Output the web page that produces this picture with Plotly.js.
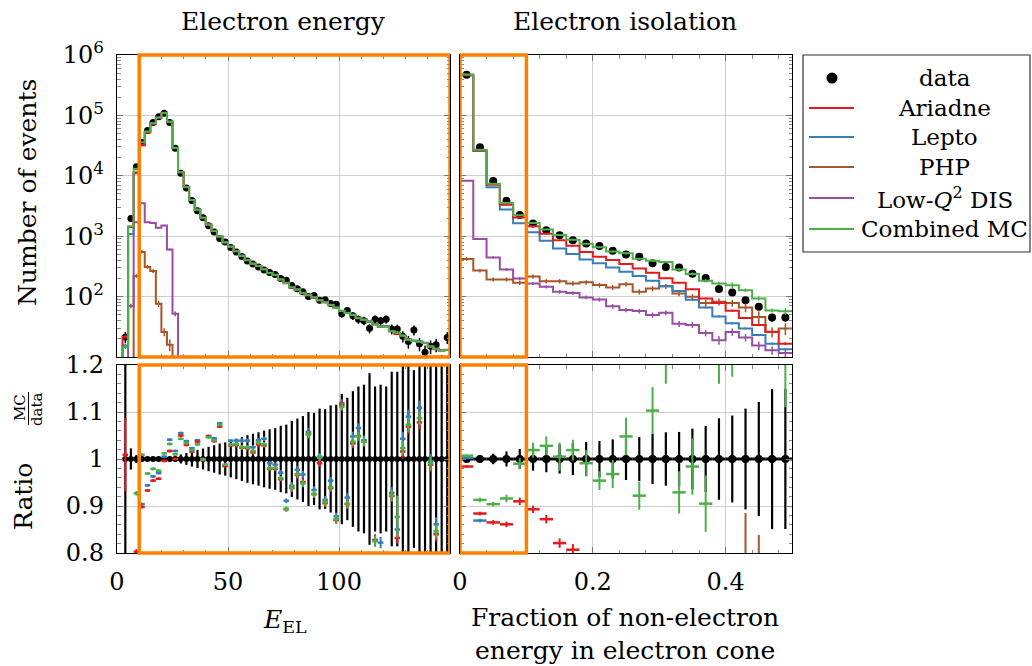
<!DOCTYPE html>
<html><head><meta charset="utf-8">
<script src="https://cdn.plot.ly/plotly-3.0.1.min.js"></script>
<style>html,body{margin:0;padding:0;background:#fff}#chart{width:1032px;height:666px}</style>
</head><body><div id="chart"></div>
<script>
// ---------- Binning ----------
const energyBinStart = 0, energyBinWidth = 2.5;      // E_EL: 60 bins 0..150
const isoBinStart = 0, isoBinWidth = 0.02;           // isolation: 25 bins 0..0.5

// ---------- Electron energy panel ----------
const dataE = [null, 21.5, 1970, 14100, 35600, 56000, 76000, 95000, 109000, 76000,
  28600, 11000, 6300, 3900, 2650, 2030, 1490, 1170, 920, 800,
  650, 545, 460, 390, 345, 310, 275, 250, 233, 200,
  187, 152, 135, 120, 100, 104, 87, 89, 77, 75,
  52, 59, 48, 42, 40, 30, 42, 40, 42, 29,
  29, 22, 18, 28, 16.5, 12, 15, 16, 8, 21];
const ratioCombinedE = [null, 0.68, 0.74, 0.927, 1.009, 0.969, 0.979, 0.975, 1.012, 1.032,
  1.010, 1.043, 1.034, 1.019, 1.031, 0.999, 1.046, 1.040, 1.073, 0.988,
  1.031, 1.032, 1.025, 1.025, 1.017, 1.035, 1.031, 0.981, 0.981, 0.959,
  0.894, 0.939, 0.968, 0.948, 1.052, 0.926, 1.003, 0.908, 0.940, 0.872,
  1.111, 0.905, 1.037, 1.048, 1.037, 1.28, 0.825, 0.79, 0.76, 0.922,
  0.877, 1.023, 1.073, 0.66, 1.087, 1.42, 0.991, 0.846, 1.6, 0.62];
const ratioAriadneE = [null, 1.009, 0.72, 0.803, 0.898, 0.933, 0.954, 0.958, 0.996, 1.017,
  1.000, 1.050, 1.030, 1.016, 1.037, 0.998, 1.048, 1.038, 1.069, 0.985,
  1.029, 1.030, 1.024, 1.023, 1.014, 1.031, 1.029, 0.979, 0.979, 0.957,
  0.893, 0.938, 0.966, 0.951, 1.053, 0.925, 0.991, 0.906, 0.938, 0.870,
  1.115, 0.904, 1.033, 1.049, 1.037, 1.28, 0.827, 0.79, 0.76, 0.921,
  0.832, 1.016, 1.069, 0.66, 1.078, 1.42, 0.988, 0.840, 1.6, 0.62];
const ratioLeptoE = [null, 0.72, 0.55, 0.78, 0.904, 0.944, 0.963, 0.970, 1.005, 1.041,
  1.017, 1.055, 1.038, 1.023, 1.040, 1.000, 1.049, 1.044, 1.076, 0.986,
  1.039, 1.039, 1.039, 1.039, 1.025, 1.040, 1.043, 0.991, 0.988, 0.971,
  0.911, 0.943, 0.977, 0.967, 1.058, 0.934, 1.005, 0.913, 0.954, 0.878,
  1.119, 0.918, 1.048, 1.066, 1.040, 1.30, 0.828, 0.822, 0.77, 0.928,
  0.850, 1.043, 1.090, 0.67, 1.109, 1.44, 0.996, 0.861, 1.62, 0.63];
const errCombinedE = [null, 0.05, 0.01, 0.005, 0.003, 0.003, 0.003, 0.003, 0.003, 0.003,
  0.003, 0.003, 0.003, 0.003, 0.003, 0.003, 0.003, 0.003, 0.003, 0.003,
  0.003, 0.005, 0.005, 0.005, 0.005, 0.005, 0.005, 0.005, 0.005, 0.005,
  0.005, 0.008, 0.008, 0.008, 0.008, 0.008, 0.008, 0.008, 0.008, 0.008,
  0.008, 0.01, 0.01, 0.01, 0.01, 0.01, 0.012, 0.012, 0.012, 0.012,
  0.045, 0.015, 0.015, 0.015, 0.015, 0.015, 0.015, 0.015, 0.015, 0.015];
const errAriadneE = [null, 0.078, 0.01, 0.005, 0.003, 0.003, 0.003, 0.003, 0.003, 0.003,
  0.003, 0.003, 0.003, 0.003, 0.003, 0.003, 0.003, 0.003, 0.003, 0.003,
  0.003, 0.005, 0.005, 0.005, 0.005, 0.005, 0.005, 0.005, 0.005, 0.005,
  0.005, 0.008, 0.008, 0.008, 0.008, 0.008, 0.008, 0.008, 0.008, 0.008,
  0.008, 0.01, 0.01, 0.01, 0.01, 0.01, 0.012, 0.012, 0.012, 0.012,
  0.012, 0.015, 0.015, 0.015, 0.015, 0.015, 0.015, 0.015, 0.015, 0.015];
const errLeptoE = [null, 0.05, 0.01, 0.005, 0.003, 0.003, 0.003, 0.003, 0.003, 0.003,
  0.003, 0.003, 0.003, 0.003, 0.003, 0.003, 0.003, 0.003, 0.003, 0.003,
  0.003, 0.005, 0.005, 0.005, 0.005, 0.005, 0.005, 0.005, 0.005, 0.005,
  0.005, 0.008, 0.008, 0.008, 0.008, 0.008, 0.008, 0.008, 0.008, 0.008,
  0.008, 0.01, 0.01, 0.01, 0.01, 0.01, 0.012, 0.012, 0.012, 0.012,
  0.012, 0.015, 0.015, 0.015, 0.015, 0.015, 0.015, 0.015, 0.015, 0.015];
const phpE = [0, 0, 0, 220, 550, 310, 265, 76, 26, 16,
  0, 0, 0, 0, 0, 0, 0, 0, 0, 0, 0, 0, 0, 0, 0, 0, 0, 0, 0, 0,
  0, 0, 0, 0, 0, 0, 0, 0, 0, 0, 0, 0, 0, 0, 0, 0, 0, 0, 0, 0,
  0, 0, 0, 0, 0, 0, 0, 0, 0, 0];
const phpErrE = [0, 0, 0, 15, 35, 25, 20, 9, 4, 3.5,
  0, 0, 0, 0, 0, 0, 0, 0, 0, 0, 0, 0, 0, 0, 0, 0, 0, 0, 0, 0,
  0, 0, 0, 0, 0, 0, 0, 0, 0, 0, 0, 0, 0, 0, 0, 0, 0, 0, 0, 0,
  0, 0, 0, 0, 0, 0, 0, 0, 0, 0];
const lowQ2E = [0, 0, 70, 1700, 3500, 1700, 1650, 1380, 1500, 600,
  52, 0, 0, 0, 0, 0, 0, 0, 0, 0, 0, 0, 0, 0, 0, 0, 0, 0, 0, 0,
  0, 0, 0, 0, 0, 0, 0, 0, 0, 0, 0, 0, 0, 0, 0, 0, 0, 0, 0, 0,
  0, 0, 0, 0, 0, 0, 0, 0, 0, 0];
const lowQ2ErrE = [0, 0, 6, 40, 60, 40, 40, 35, 40, 25,
  5, 0, 0, 0, 0, 0, 0, 0, 0, 0, 0, 0, 0, 0, 0, 0, 0, 0, 0, 0,
  0, 0, 0, 0, 0, 0, 0, 0, 0, 0, 0, 0, 0, 0, 0, 0, 0, 0, 0, 0,
  0, 0, 0, 0, 0, 0, 0, 0, 0, 0];

// ---------- Electron isolation panel ----------
const dataI = [470000, 29700, 8200, 3860, 2240, 1630, 1260, 1040, 861, 760,
  685, 575, 500, 458, 355, 310, 302, 240, 203, 133,
  117, 87, 68, 45, 45];
const ratioCombinedI = [1.007, 0.913, 0.904, 0.916, 0.990, 1.019, 1.028, 1.005, 1.019, 0.991,
  0.954, 0.968, 1.048, 0.922, 1.103, 1.21, 0.929, 0.984, 0.905, 1.24,
  1.32, 1.47, 1.37, 1.31, 1.27];
const ratioAriadneI = [0.984, 0.884, 0.865, 0.861, 0.910, 0.893, 0.872, 0.821, 0.807, 0.72,
  0.67, 0.70, 0.69, 0.64, 0.70, 0.65, 0.56, 0.55, 0.46, 0.59,
  0.50, 0.51, 0.50, 0.58, 0.37];
const ratioLeptoI = [1.002, 0.869, 0.79, 0.72, 0.73, 0.71, 0.665, 0.60, 0.587, 0.54,
  0.52, 0.525, 0.516, 0.48, 0.515, 0.477, 0.41, 0.37, 0.325, 0.353,
  0.31, 0.34, 0.34, 0.37, 0.30];
const errCombinedI = [0.003, 0.005, 0.005, 0.008, 0.012, 0.016, 0.02, 0.03, 0.022, 0.028,
  0.02, 0.03, 0.04, 0.03, 0.05, 0.05, 0.045, 0.06, 0.06, 0.08,
  0.145, 0.1, 0.1, 0.1, 0.16];
const errAriadneI = [0.002, 0.004, 0.005, 0.006, 0.008, 0.008, 0.009, 0.01, 0.012, 0.012,
  0.012, 0.013, 0.013, 0.014, 0.014, 0.015, 0.015, 0.016, 0.016, 0.02,
  0.02, 0.02, 0.02, 0.02, 0.02];
const errLeptoI = [0.002, 0.004, 0.006, 0.006, 0.008, 0.008, 0.009, 0.01, 0.01, 0.01,
  0.01, 0.012, 0.012, 0.012, 0.013, 0.013, 0.013, 0.014, 0.014, 0.015,
  0.015, 0.015, 0.015, 0.015, 0.015];
const phpI = [420, 270, 192, 192, 170, 215, 180, 180, 165, 172,
  155, 142, 160, 120, 136, 148, 113, 99, 78, 82,
  78, 66, 46, 26, 29.5];
const phpErrI = [30, 20, 15, 15, 15, 18, 15, 15, 14, 15,
  14, 13, 14, 12, 13, 14, 12, 11, 10, 11,
  10, 11, 11, 5, 6.5];
const lowQ2I = [8300, 895, 445, 282, 200, 165, 145, 120, 115, 97,
  89.5, 69, 60, 57.5, 49.5, 54, 35.5, 34, 25, 19,
  26, 21, 15.5, 12.9, 11.7];
const lowQ2ErrI = [100, 30, 20, 15, 12, 10, 9, 8, 8, 7,
  7, 6, 5, 5, 5, 5, 4, 4, 3, 3,
  3.5, 3, 2.5, 2, 2];

// ---------- Text ----------
const panelTitles = ['Electron energy', 'Electron isolation'];
const legendLabels = ['data', 'Ariadne', 'Lepto', 'PHP', 'Low-<i>Q</i><sup>2</sup> DIS', 'Combined MC'];
const logTickVals = [1e2, 1e3, 1e4, 1e5, 1e6];
const logTickText = ['10<sup>2</sup>', '10<sup>3</sup>', '10<sup>4</sup>', '10<sup>5</sup>', '10<sup>6</sup>'];

// ---------- Styles ----------
const C = {red:'#e41a1c', blue:'#377eb8', green:'#4daf4a', purple:'#984ea3', orange:'#ff7f00', brown:'#a65628', black:'#000000'};
const FONT = 'DejaVu Serif';
const FS = 24;       // tick labels
const FL = 23;       // legend
const FT = 25;       // titles
const FLOOR = 1e-3;

// page geometry (pixels)
const L = 117, R = 792, T = 55, B = 553;
const px = v => (v - L) / (R - L);
const py = v => (B - v) / (B - T);

function centers(n, start, w) { const c = []; for (let i = 0; i < n; i++) c.push(start + (i + 0.5) * w); return c; }
const eC = centers(dataE.length, energyBinStart, energyBinWidth);
const iC = centers(dataI.length, isoBinStart, isoBinWidth);
const times = (d, r) => d.map((v, i) => (v == null || r[i] == null) ? 0 : v * r[i]);

const traces = [];
function stepLine(vals, start, w, xa, ya, color) {
  const xs = [start], ys = [FLOOR];
  for (let i = 0; i < vals.length; i++) { xs.push(start + i * w); ys.push(vals[i] > 0 ? vals[i] : FLOOR); }
  xs.push(start + vals.length * w); ys.push(vals[vals.length - 1] > 0 ? vals[vals.length - 1] : FLOOR);
  traces.push({type:'scatter', mode:'lines', x:xs, y:ys, xaxis:xa, yaxis:ya,
    line:{color:color, width:2, shape:'hv'}, hoverinfo:'skip', showlegend:false});
}
function histErr(vals, errs, cen, xa, ya, color) {
  traces.push({type:'scatter', mode:'markers', x:cen, y:vals.map(v => v > 0 ? v : null), xaxis:xa, yaxis:ya,
    marker:{size:1, color:color}, error_y:{type:'data', array:errs, color:color, thickness:1.5, width:0},
    hoverinfo:'skip', showlegend:false});
}
function hist(vals, errs, cen, start, w, xa, ya, color) { stepLine(vals, start, w, xa, ya, color); histErr(vals, errs, cen, xa, ya, color); }
function dataPoints(d, cen, xa, ya, size) {
  traces.push({type:'scatter', mode:'markers', x:cen, y:d.map(v => v > 0 ? v : null), xaxis:xa, yaxis:ya,
    marker:{size:size, color:'#000'}, error_y:{type:'data', array:d.map(v => v > 0 ? Math.sqrt(v) : 0), color:'#000', thickness:1.5, width:0},
    hoverinfo:'skip', showlegend:false});
}
function dataRatio(d, cen, w, xa, ya, size) {
  traces.push({type:'scatter', mode:'markers', x:cen, y:d.map(v => v > 0 ? 1 : null), xaxis:xa, yaxis:ya,
    marker:{size:size, color:'#000'},
    error_y:{type:'data', array:d.map(v => v > 0 ? 1 / Math.sqrt(v) : 0), color:'#000', thickness:2.2, width:0},
    error_x:{type:'constant', value:w / 2, color:'#000', thickness:3, width:0},
    hoverinfo:'skip', showlegend:false});
}
function mcRatio(r, e, cen, w, xa, ya, color) {
  traces.push({type:'scatter', mode:'markers', x:cen, y:r, xaxis:xa, yaxis:ya,
    marker:{size:2, color:color},
    error_y:{type:'data', array:e, color:color, thickness:2, width:0},
    error_x:{type:'constant', value:w / 2, color:color, thickness:2.5, width:0},
    hoverinfo:'skip', showlegend:false});
}
function compRatio(counts, errs, d, cen, w, xa, ya, color) {
  const r = counts.map((v, i) => (v > 0 && d[i] > 0) ? v / d[i] : null);
  const e = errs.map((v, i) => (counts[i] > 0 && d[i] > 0) ? v / d[i] : 0);
  mcRatio(r, e, cen, w, xa, ya, color);
}

// ----- Upper left: electron energy -----
dataPoints(dataE, eC, 'x', 'y', 7);
hist(phpE, phpErrE, eC, energyBinStart, energyBinWidth, 'x', 'y', C.brown);
hist(lowQ2E, lowQ2ErrE, eC, energyBinStart, energyBinWidth, 'x', 'y', C.purple);
hist(times(dataE, ratioLeptoE), times(dataE, errLeptoE), eC, energyBinStart, energyBinWidth, 'x', 'y', C.blue);
hist(times(dataE, ratioAriadneE), times(dataE, errAriadneE), eC, energyBinStart, energyBinWidth, 'x', 'y', C.red);
hist(times(dataE, ratioCombinedE), times(dataE, errCombinedE), eC, energyBinStart, energyBinWidth, 'x', 'y', C.green);

// ----- Upper right: isolation -----
dataPoints(dataI, iC, 'x2', 'y2', 8);
hist(phpI, phpErrI, iC, isoBinStart, isoBinWidth, 'x2', 'y2', C.brown);
hist(lowQ2I, lowQ2ErrI, iC, isoBinStart, isoBinWidth, 'x2', 'y2', C.purple);
hist(times(dataI, ratioLeptoI), times(dataI, errLeptoI), iC, isoBinStart, isoBinWidth, 'x2', 'y2', C.blue);
hist(times(dataI, ratioAriadneI), times(dataI, errAriadneI), iC, isoBinStart, isoBinWidth, 'x2', 'y2', C.red);
hist(times(dataI, ratioCombinedI), times(dataI, errCombinedI), iC, isoBinStart, isoBinWidth, 'x2', 'y2', C.green);

// ----- Lower left: ratio energy -----
dataRatio(dataE, eC, energyBinWidth, 'x3', 'y3', 6);
compRatio(phpE, phpErrE, dataE, eC, energyBinWidth, 'x3', 'y3', C.brown);
compRatio(lowQ2E, lowQ2ErrE, dataE, eC, energyBinWidth, 'x3', 'y3', C.purple);
mcRatio(ratioLeptoE, errLeptoE, eC, energyBinWidth, 'x3', 'y3', C.blue);
mcRatio(ratioAriadneE, errAriadneE, eC, energyBinWidth, 'x3', 'y3', C.red);
mcRatio(ratioCombinedE, errCombinedE, eC, energyBinWidth, 'x3', 'y3', C.green);

// ----- Lower right: ratio isolation -----
dataRatio(dataI, iC, isoBinWidth, 'x4', 'y4', 8);
compRatio(phpI, phpErrI, dataI, iC, isoBinWidth, 'x4', 'y4', C.brown);
compRatio(lowQ2I, lowQ2ErrI, dataI, iC, isoBinWidth, 'x4', 'y4', C.purple);
mcRatio(ratioLeptoI, errLeptoI, iC, isoBinWidth, 'x4', 'y4', C.blue);
mcRatio(ratioAriadneI, errAriadneI, iC, isoBinWidth, 'x4', 'y4', C.red);
mcRatio(ratioCombinedI, errCombinedI, iC, isoBinWidth, 'x4', 'y4', C.green);

// ---------- Axes ----------
const base = {showline:true, linecolor:'#000', linewidth:1.2, mirror:'allticks', ticks:'inside', ticklen:6,
  tickwidth:1, tickcolor:'#777', showgrid:true, gridcolor:'#cfcfcf', gridwidth:1, zeroline:false,
  tickfont:{family:FONT, size:FS, color:'#000'}, fixedrange:true};
const minorLin = d => ({tickmode:'linear', tick0:0, dtick:d, ticks:'inside', ticklen:3.5, tickcolor:'#888', tickwidth:1, showgrid:false});
const logMinor = [];
for (let p = 1; p < 6; p++) for (let m = 2; m <= 9; m++) logMinor.push(m * Math.pow(10, p));

const xLeft = [0, px(450)], xRight = [px(460), 1];
const yTop = [py(357), 1], yBot = [0, py(365)];

const layout = {
  width:1032, height:666, margin:{l:L, r:1032 - R, t:T, b:666 - B, pad:0},
  paper_bgcolor:'#fff', plot_bgcolor:'#fff', showlegend:false,
  font:{family:FONT, size:FS, color:'#000'},
  xaxis: Object.assign({}, base, {domain:xLeft, anchor:'y', range:[0, 150], tickmode:'linear', tick0:0, dtick:50, showticklabels:false, minor:minorLin(10)}),
  yaxis: Object.assign({}, base, {domain:yTop, anchor:'x', type:'log', range:[1, 6], tickmode:'array', tickvals:logTickVals, ticktext:logTickText, ticklabelstandoff:7,
    minor:{tickmode:'array', tickvals:logMinor, ticks:'inside', ticklen:3.5, tickcolor:'#888', showgrid:false}}),
  xaxis2: Object.assign({}, base, {domain:xRight, anchor:'y2', range:[0, 0.5], tickmode:'linear', tick0:0, dtick:0.2, showticklabels:false, minor:minorLin(0.04)}),
  yaxis2: Object.assign({}, base, {domain:yTop, anchor:'x2', type:'log', range:[1, 6], tickmode:'array', tickvals:logTickVals, showticklabels:false,
    minor:{tickmode:'array', tickvals:logMinor, ticks:'inside', ticklen:3.5, tickcolor:'#888', showgrid:false}}),
  xaxis3: Object.assign({}, base, {domain:xLeft, anchor:'y3', range:[0, 150], tickmode:'array', tickvals:[0, 50, 100], ticktext:['0', '50', '100'], ticklabelstandoff:7, minor:minorLin(10)}),
  yaxis3: Object.assign({}, base, {domain:yBot, anchor:'x3', range:[0.8, 1.2], tickmode:'array', tickvals:[0.8, 0.9, 1, 1.1, 1.2], ticktext:['0.8', '0.9', '1', '1.1', '1.2'], ticklabelstandoff:7, minor:minorLin(0.02)}),
  xaxis4: Object.assign({}, base, {domain:xRight, anchor:'y4', range:[0, 0.5], tickmode:'array', tickvals:[0, 0.2, 0.4], ticktext:['0', '0.2', '0.4'], ticklabelstandoff:7, minor:minorLin(0.04)}),
  yaxis4: Object.assign({}, base, {domain:yBot, anchor:'x4', range:[0.8, 1.2], tickmode:'array', tickvals:[0.8, 0.9, 1, 1.1, 1.2], showticklabels:false, minor:minorLin(0.02)}),
  shapes: [],
  annotations: []
};

// orange highlight boxes
const ob = {type:'rect', line:{color:C.orange, width:3.5}, fillcolor:'rgba(0,0,0,0)', layer:'above'};
layout.shapes.push(Object.assign({}, ob, {xref:'x', yref:'y domain', x0:10, x1:150, y0:0, y1:1}));
layout.shapes.push(Object.assign({}, ob, {xref:'x3', yref:'y3 domain', x0:10, x1:150, y0:0, y1:1}));
layout.shapes.push(Object.assign({}, ob, {xref:'x2', yref:'y2 domain', x0:0, x1:0.1, y0:0, y1:1}));
layout.shapes.push(Object.assign({}, ob, {xref:'x4', yref:'y4 domain', x0:0, x1:0.1, y0:0, y1:1}));

// legend (drawn by hand so the labels can be centred like the original)
layout.shapes.push({type:'rect', xref:'paper', yref:'paper', x0:px(803), x1:px(1030), y0:py(252), y1:py(55),
  line:{color:'#333', width:1.2}, fillcolor:'#fff', layer:'above'});
layout.shapes.push({type:'circle', xref:'paper', yref:'paper', x0:px(826.5), x1:px(837.5), y0:py(83.5), y1:py(72.5),
  line:{color:'#000', width:0}, fillcolor:'#000', layer:'above'});
const legRows = [78, 108, 137, 167, 198, 229];
const legColors = [null, C.red, C.blue, C.brown, C.purple, C.green];
for (let i = 0; i < legendLabels.length; i++) {
  if (legColors[i]) layout.shapes.push({type:'line', xref:'paper', yref:'paper', x0:px(809), x1:px(854), y0:py(legRows[i]), y1:py(legRows[i]),
    line:{color:legColors[i], width:2}, layer:'above'});
  layout.annotations.push({xref:'paper', yref:'paper', x:px(945), y:py(legRows[i]), xanchor:'center', yanchor:'middle',
    text:legendLabels[i], showarrow:false, font:{family:FONT, size:FL, color:'#000'}});
}

// titles & axis labels
const ann = (x, y, text, size, angle) => layout.annotations.push({xref:'paper', yref:'paper', x:px(x), y:py(y), xanchor:'center', yanchor:'middle',
  text:text, showarrow:false, textangle:angle || 0, font:{family:FONT, size:size, color:'#000'}});
ann(283, 21, panelTitles[0], FT);
ann(625, 21, panelTitles[1], FT);
ann(27, 193, 'Number of events', FT, -90);
ann(23, 497, 'Ratio', FT, -90);
ann(20, 408, 'MC', 15, -90);
ann(37, 409, 'data', 15, -90);
layout.shapes.push({type:'line', xref:'paper', yref:'paper', x0:px(28.5), x1:px(28.5), y0:py(425), y1:py(392), line:{color:'#000', width:1}});
ann(285, 621, '<i>E</i><sub>EL</sub>', FT);
ann(625, 617, 'Fraction of non-electron', FT);
ann(625, 650, 'energy in electron cone', FT);

Plotly.newPlot('chart', traces, layout, {staticPlot:true, displayModeBar:false});
</script>
</body></html>
